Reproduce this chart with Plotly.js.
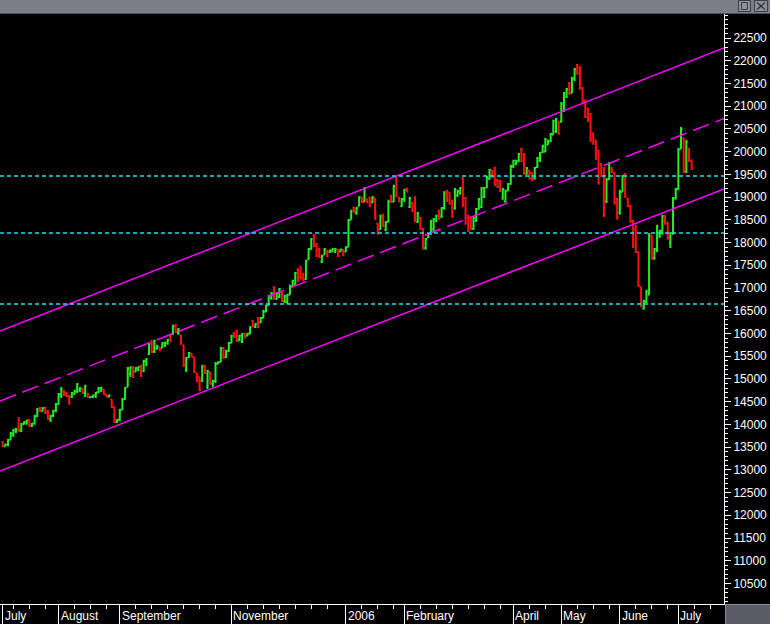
<!DOCTYPE html>
<html>
<head>
<meta charset="utf-8">
<script src="https://cdn.plot.ly/plotly-3.0.1.min.js"></script>
<style>
  html, body { margin: 0; padding: 0; background: #000; }
  #chart { width: 770px; height: 624px; }
</style>
</head>
<body>
<div id="chart"></div>
<script>
// ---- Daily OHLC values (index = trading day, Jul 2005 .. early Jul 2006) ----
const open = [
13610,13520,13550,13660,13780,13840,13950,13870,14000,14030,
14100,13970,14020,14180,14360,14290,14370,14270,14110,14190,
14290,14440,14640,14740,14680,14620,14600,14670,14720,14760,
14790,14690,14680,14590,14610,14630,14700,14760,14770,14660,
14610,14550,14380,14050,14100,14320,14550,14830,15100,15260,
15160,15200,15280,15170,15380,15540,15820,15600,15680,15700,
15680,15730,15780,15950,15990,16180,16010,15960,15740,15200,
15480,15560,15480,15130,15040,14950,15290,14820,15150,14900,
14950,15330,15370,15680,15480,15620,15790,16010,16060,15850,
15820,16000,15950,15990,16280,16140,16340,16240,16340,16480,
16620,16780,17020,16760,16800,16900,16700,16700,16850,17030,
17080,17400,17470,17320,17200,17630,17850,18160,17960,17850,
17580,17730,17820,17790,17810,17800,17840,17800,17840,17800,
17900,18500,18770,18650,18800,18990,18900,18950,18990,18880,
18970,18420,18290,18610,18280,18460,19030,18900,19380,18990,
18800,18950,19190,18780,18880,18990,18460,18550,18300,17880,
18110,18190,18300,18470,18700,18580,18760,19140,19100,18920,
18760,19040,19100,19400,18980,18580,18520,18300,18480,18750,
18780,19000,19210,19400,19580,19650,19380,19350,18970,18900,
19150,19290,19680,19720,19790,20050,19950,19520,19580,19530,
19420,19660,19800,19990,20000,20150,20230,20370,20450,20650,
20650,20900,21200,21500,21290,21600,21900,21860,21400,21130,
20960,20830,20410,20250,20000,19720,19640,18900,19390,19640,
19530,18960,18650,19110,19510,18970,18800,18480,18300,17790,
17020,16560,16700,16850,18150,17660,17850,18150,18250,18590,
18440,18000,18210,18980,19170,20060,20300,19560,20060,19800
];
const high = [
13630,13570,13680,13830,13900,13920,14160,14030,14070,14100,
14120,14030,14210,14360,14380,14380,14380,14320,14210,14320,
14470,14690,14820,14760,14710,14650,14710,14760,14910,14820,
14800,14870,14690,14620,14650,14710,14820,14820,14780,14670,
14650,14560,14380,14120,14340,14580,14820,15260,15280,15280,
15260,15280,15310,15420,15460,15790,15860,15860,15750,15700,
15810,15810,15880,15970,16190,16210,16120,15970,15750,15480,
15590,15570,15480,15130,15040,15310,15310,15200,15150,14980,
15370,15390,15700,15700,15640,15810,15970,16030,16080,15970,
16010,16010,16010,16160,16300,16230,16360,16360,16520,16630,
16850,16910,17040,16910,17000,16910,16850,16870,17070,17180,
17350,17440,17480,17330,17620,17880,18100,18190,17990,17880,
17730,17880,17840,17840,17880,17880,17860,17860,17860,17920,
18520,18720,18780,18780,19020,19000,19220,18960,19000,19020,
18980,18430,18610,18630,18470,18940,19050,19270,19440,19000,
18980,19180,19200,19000,18890,19020,18670,18560,18320,18100,
18210,18500,18540,18610,18720,18780,19130,19160,19110,18940,
19200,19160,19220,19440,19000,18610,18540,18560,18760,18980,
19220,19220,19460,19620,19600,19660,19400,19380,19200,19160,
19310,19710,19820,19820,19970,20080,19970,19660,19600,19550,
19660,19880,19990,20150,20300,20260,20410,20700,20740,20680,
21090,21310,21400,21530,21640,21840,21930,21880,21420,21140,
20960,20850,20410,20260,20040,19750,19660,19420,19770,19660,
19550,18980,19160,19490,19530,18980,18830,18500,18390,17790,
17020,16740,16960,18210,18170,17880,18390,18280,18610,18610,
18450,18230,19000,19200,20080,20540,20300,20260,20080,19830
];
const low = [
13500,13520,13520,13660,13720,13810,13830,13830,13990,13990,
13940,13940,13990,14160,14270,14290,14230,14100,14050,14160,
14270,14430,14580,14620,14600,14430,14580,14650,14690,14710,
14670,14600,14580,14580,14580,14580,14690,14710,14650,14600,
14600,14360,14030,14030,14070,14320,14540,14820,15040,15020,
15150,15170,15040,15150,15280,15530,15570,15570,15640,15610,
15680,15700,15750,15810,15970,16010,15970,15750,15260,15150,
15460,15480,15130,14930,14730,14930,15110,14780,14870,14820,
14910,15330,15370,15440,15460,15590,15790,15900,15810,15830,
15790,15900,15940,15990,16140,16120,16120,16230,16340,16470,
16620,16740,16740,16740,16780,16690,16670,16650,16850,17020,
17070,17130,17180,17150,17180,17620,17840,17900,17680,17660,
17550,17730,17680,17770,17790,17770,17680,17790,17700,17790,
17900,18500,18650,18610,18800,18870,18890,18870,18780,18870,
18500,18170,18280,18340,18250,18450,18870,18890,19000,18890,
18780,18890,19110,18760,18670,18450,18430,18280,17840,17840,
18100,18170,18230,18450,18500,18540,18720,18890,18830,18540,
18720,19000,19050,18780,18390,18230,18280,18280,18450,18720,
18760,18980,19200,19380,19420,19240,19200,19110,18940,18890,
19130,19270,19640,19710,19770,19770,19490,19490,19380,19350,
19380,19640,19770,19970,19990,20150,20210,20370,20410,20370,
20650,20870,21180,21250,21290,21550,21690,21360,21070,20740,
20650,20210,20150,19820,19270,19440,18560,18870,19380,19530,
18830,18500,18610,19110,18980,18780,18430,17880,17770,17020,
16580,16520,16670,16850,17620,17620,17790,18100,18170,18390,
18060,17880,18170,18940,19160,20060,19530,19530,19770,19600
];
const close = [
13520,13560,13660,13800,13880,13900,13870,14000,14050,14080,
13980,14020,14180,14330,14290,14360,14260,14130,14190,14300,
14450,14660,14780,14640,14620,14470,14690,14740,14880,14800,
14690,14850,14600,14610,14640,14700,14800,14810,14660,14610,
14640,14380,14060,14100,14320,14560,14800,15230,15250,15060,
15240,15270,15070,15400,15440,15770,15600,15830,15730,15630,
15790,15800,15860,15830,16170,16040,16100,15780,15300,15460,
15570,15490,15160,14960,14760,15280,15130,15170,14900,14960,
15340,15370,15680,15460,15620,15790,15950,15920,15840,15950,
15990,15910,16000,16140,16160,16210,16150,16340,16490,16610,
16820,16890,16770,16890,16980,16720,16830,16850,17040,17160,
17330,17160,17220,17180,17590,17860,18080,17930,17710,17690,
17710,17860,17700,17830,17860,17860,17710,17850,17720,17900,
18490,18700,18670,18760,19000,18890,19190,18880,18800,19000,
18530,18200,18580,18370,18450,18900,18890,19240,19050,18900,
18960,19160,19120,18980,18700,18480,18650,18300,17880,18080,
18190,18470,18520,18590,18520,18760,19100,18920,18860,18570,
19170,19140,19200,18820,18420,18260,18300,18540,18730,18960,
19190,19200,19440,19600,19440,19270,19220,19140,19180,19130,
19290,19680,19800,19800,19950,19800,19520,19640,19410,19380,
19640,19860,19970,20130,20270,20240,20390,20670,20720,20400,
21050,21290,21380,21280,21620,21820,21720,21400,21100,20770,
20700,20250,20180,19850,19310,19470,18600,19380,19740,19550,
18870,18540,19120,19460,19020,18800,18460,17920,17800,17050,
16620,16710,16930,18170,17660,17860,18350,18260,18580,18420,
18100,18210,18960,19170,20040,20500,19570,20220,19800,19630
];

// ---- Trend channel (values at left and right edge of the plot) ----
const upperChannel = [16054, 22280];
const midChannel   = [14514, 20729];
const lowerChannel = [12974, 19178];

// ---- Horizontal support / resistance levels ----
const levels = [19464, 18210, 16648];

// ---- X axis: month starts (trading-day index) and labels ----
const monthStarts = [0, 21, 44, 86, 129, 151, 192, 210, 232, 254];
const monthLabels = ['July','August','September','November','2006','February','April','May','June','July'];
const minorTicks = [4,10,16, 27,33,39, 50,56,62,68,74,80, 92,98,104,110,116,122,
                    135,141,147, 157,163,169,175,181,187, 198,204, 216,222,228,
                    238,244,250, 260,266];

// ---- Y axis ticks ----
const yTicks = [];
for (let v = 10500; v <= 22500; v += 500) yTicks.push(v);

const xIdx = open.map((_, i) => i);
const xRange = [-1.015, 271.165];

const W = 770, H = 624, ML = 0, MR = 46, MT = 14, MB = 20;
const PW = W - ML - MR, PH = H - MT - MB;
const px = x => (x - ML) / PW;
const py = y => (H - MB - y) / PH;

const traces = [];
// channel lines
[[upperChannel, 'solid'], [midChannel, '17px,7px'], [lowerChannel, 'solid']].forEach(([vals, dash]) => {
  traces.push({
    type: 'scatter', mode: 'lines', x: xRange, y: vals,
    line: {color: '#ff00ff', width: 1.5, dash: dash}, hoverinfo: 'skip'
  });
});
// level lines
levels.forEach(lv => {
  traces.push({
    type: 'scatter', mode: 'lines', x: xRange, y: [lv, lv],
    line: {color: '#18e4f4', width: 1.3, dash: '4px,3px'}, hoverinfo: 'skip'
  });
});
// OHLC bars
traces.push({
  type: 'ohlc', x: xIdx, open: open, high: high, low: low, close: close,
  increasing: {line: {color: '#22ee22', width: 2}},
  decreasing: {line: {color: '#ff1010', width: 2}},
  tickwidth: 0.5
});

const font = {family: 'Liberation Sans, Arial, sans-serif', size: 12, color: '#ffffff'};

const annotations = monthStarts.map((m, i) => ({
  x: m, xref: 'x', y: 0, yref: 'paper', yanchor: 'top', xanchor: 'left',
  xshift: 0, yshift: -3, text: monthLabels[i], showarrow: false, font: font
}));

const shapes = [
  // title bar
  {type: 'rect', xref: 'paper', yref: 'paper', x0: px(-2), x1: px(772), y0: py(13), y1: py(-2),
   fillcolor: '#7b7e87', line: {width: 0}, layer: 'above'},
  {type: 'line', xref: 'paper', yref: 'paper', x0: px(0), x1: px(770), y0: py(13.5), y1: py(13.5),
   line: {color: '#50535b', width: 1}, layer: 'above'},
  // restore icon
  {type: 'rect', xref: 'paper', yref: 'paper', x0: px(738.5), x1: px(750.5), y0: py(11.5), y1: py(0.5),
   fillcolor: '#8d9099', line: {color: '#3a3d44', width: 1}, layer: 'above'},
  {type: 'rect', xref: 'paper', yref: 'paper', x0: px(741.5), x1: px(747.5), y0: py(9.5), y1: py(2.5),
   fillcolor: 'rgba(0,0,0,0)', line: {color: '#3a3d44', width: 1}, layer: 'above'},
  // close icon
  {type: 'rect', xref: 'paper', yref: 'paper', x0: px(754.5), x1: px(767.5), y0: py(11.5), y1: py(0.5),
   fillcolor: '#8d9099', line: {color: '#3a3d44', width: 1}, layer: 'above'},
  {type: 'line', xref: 'paper', yref: 'paper', x0: px(757), x1: px(765), y0: py(2.5), y1: py(9.5),
   line: {color: '#2e3036', width: 1.3}, layer: 'above'},
  {type: 'line', xref: 'paper', yref: 'paper', x0: px(765), x1: px(757), y0: py(2.5), y1: py(9.5),
   line: {color: '#2e3036', width: 1.3}, layer: 'above'},
  // bottom-right corner box
  {type: 'rect', xref: 'paper', yref: 'paper', x0: px(725.5), x1: px(771), y0: py(625), y1: py(604.5),
   fillcolor: '#5a5c68', line: {color: '#8a8c98', width: 1}, layer: 'above'}
];

const layout = {
  width: W, height: H,
  paper_bgcolor: '#000000', plot_bgcolor: '#000000',
  margin: {l: ML, r: MR, t: MT, b: MB, pad: 0},
  showlegend: false,
  font: font,
  xaxis: {
    range: xRange, rangeslider: {visible: false}, showgrid: false, zeroline: false,
    showline: true, linecolor: '#ffffff', linewidth: 1,
    tickmode: 'array', tickvals: monthStarts, showticklabels: false,
    ticks: 'outside', ticklen: 20, tickcolor: '#ffffff', tickwidth: 1,
    minor: {tickmode: 'array', tickvals: minorTicks, ticks: 'outside', ticklen: 4,
            tickcolor: '#ffffff', tickwidth: 1, showgrid: false},
    fixedrange: true
  },
  yaxis: {
    side: 'right', range: [10048, 23028], showgrid: false, zeroline: false,
    showline: true, linecolor: '#ffffff', linewidth: 1,
    tickmode: 'array', tickvals: yTicks, tickformat: 'd',
    ticks: 'outside', ticklen: 6, tickcolor: '#ffffff', tickwidth: 1,
    tickfont: font,
    minor: {tickmode: 'linear', tick0: 0, dtick: 100, ticks: 'outside', ticklen: 3,
            tickcolor: '#ffffff', tickwidth: 1, showgrid: false},
    fixedrange: true
  },
  annotations: annotations,
  shapes: shapes
};

Plotly.newPlot('chart', traces, layout, {displayModeBar: false, staticPlot: true});
</script>
</body>
</html>
